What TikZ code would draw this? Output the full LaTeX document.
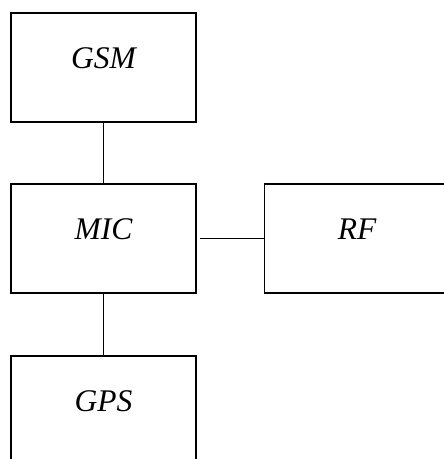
\documentclass[tikz,border=0pt]{standalone}
\usepackage{fontspec}
\setmainfont{Liberation Serif}
\begin{document}
\begin{tikzpicture}[x=1pt,y=-1pt,
  box/.style={draw,line width=1.6pt,rectangle,inner sep=0pt,minimum width=185pt,minimum height=109pt},
  lbl/.style={font=\fontsize{31.5}{37}\selectfont\itshape,yshift=9.5pt},
  link/.style={line width=1.6pt}]
\useasboundingbox (0,0) rectangle (444,459);
\clip (0,0) rectangle (444,459);
\node[box,label={[lbl]center:GSM}] (gsm) at (103.5,67.5) {};
\node[box,label={[lbl]center:MIC}] (mic) at (103.5,238.5) {};
\node[box,label={[lbl]center:RF}] (rf) at (357,238.5) {};
\node[box,label={[lbl]center:GPS}] (gps) at (103.5,410.5) {};
\draw[link] (gsm.south) -- (mic.north);
\draw[link] (mic.south) -- (gps.north);
\draw[link,shorten <=3pt] (mic.east) -- (rf.west);
\end{tikzpicture}
\end{document}
